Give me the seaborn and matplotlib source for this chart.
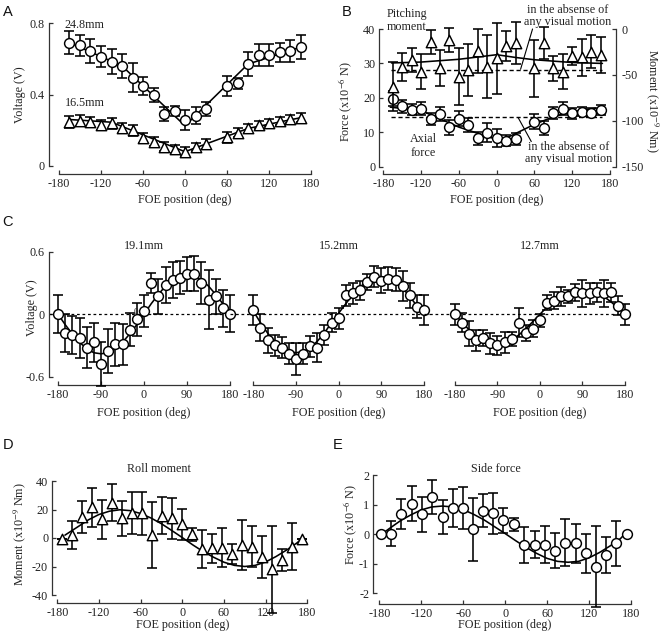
import matplotlib
matplotlib.use("Agg")
import matplotlib.pyplot as plt
import seaborn as sns

# ---------------- data ----------------
A_x = [-165, -150, -135, -120, -105, -90, -75, -60, -45, -30, -15, 0, 15, 30, 60, 75, 90, 105, 120, 135, 150, 165]
A_big = [0.69, 0.675, 0.645, 0.612, 0.582, 0.56, 0.494, 0.45, 0.397, 0.291, 0.308, 0.257, 0.282, 0.317,
         0.448, 0.463, 0.571, 0.621, 0.621, 0.636, 0.645, 0.666]
A_big_err = [0.063, 0.059, 0.067, 0.06, 0.07, 0.065, 0.08, 0.05, 0.037, 0.04, 0.028, 0.058, 0.047, 0.04,
             0.056, 0.03, 0.067, 0.063, 0.063, 0.053, 0.062, 0.068]
A_small = [0.248, 0.254, 0.246, 0.228, 0.239, 0.211, 0.2, 0.155, 0.136, 0.108, 0.097, 0.08, 0.108, 0.123,
           0.16, 0.187, 0.211, 0.23, 0.243, 0.25, 0.263, 0.27]
A_small_err = [0.033, 0.032, 0.03, 0.028, 0.03, 0.027, 0.03, 0.027, 0.024, 0.026, 0.022, 0.025, 0.022, 0.028,
               0.03, 0.026, 0.026, 0.024, 0.022, 0.022, 0.022, 0.024]
A_big_fit_x = [-165, -90, 0, 90, 165]
A_big_fit_y = [0.69, 0.56, 0.225, 0.57, 0.665]
A_small_fit_x = [-165, -105, 0, 90, 165]
A_small_fit_y = [0.26, 0.245, 0.08, 0.21, 0.27]

B_x = A_x
B_pitch = [-62.7, -41, -33.7, -46.5, -13.8, -42.7, -11.9, -52, -44.6, -23.6, -41, -31.9, -18.4, -15.4,
           -42.7, -15.4, -42.7, -46.5, -29.3, -30.7, -25, -28.3]
B_pitch_err = [27, 15.4, 13.3, 19, 13, 19.5, 13, 31, 28, 24, 34, 38.6, 16, 22.6, 31, 17.8, 13.7, 19, 10, 20, 18, 20]
B_axial = [19.8, 17.6, 16.6, 16.8, 13.8, 15.3, 11.4, 13.9, 12.1, 8.2, 9.9, 8.3, 7.6, 8.0, 13.1, 11.3, 15.7,
           16.9, 15.5, 16.0, 15.7, 16.5]
B_axial_err = [2.2, 1.9, 1.6, 1.9, 1.8, 2.0, 2.1, 2.2, 2.0, 2.0, 2.7, 2.7, 1.6, 1.7, 2.2, 2.0, 1.7, 1.9, 1.6,
               1.4, 1.4, 1.5]
B_pitch_fit_x = [-167, -120, -60, -30, 0, 30, 60, 120, 168]
B_pitch_fit_y = [-37, -36, -33, -30.5, -28, -31, -33.5, -36.5, -37.5]
B_axial_fit_x = [-169, -120, -60, 0, 15, 60, 90, 120, 169]
B_axial_fit_y = [17.3, 16.3, 11.5, 7.9, 8.3, 12.3, 14.5, 16.0, 17.3]
B_pitch_rest = -45
B_axial_rest = 14.5

C_x = [-180, -165, -150, -135, -120, -105, -90, -75, -60, -45, -30, -15, 0, 15, 30, 45, 60, 75, 90, 105,
       120, 135, 150, 165, 180]
C1_y = [0, -0.18, -0.2, -0.23, -0.32, -0.27, -0.48, -0.35, -0.29, -0.29, -0.15, -0.05, 0.03, 0.3, 0.17,
        0.28, 0.33, 0.35, 0.385, 0.39, 0.3, 0.14, 0.17, 0.055, 0.006]
C1_err = [0.18, 0.18, 0.18, 0.19, 0.2, 0.19, 0.21, 0.21, 0.21, 0.2, 0.16, 0.16, 0.15, 0.1, 0.17, 0.17, 0.17,
          0.16, 0.16, 0.17, 0.2, 0.28, 0.17, 0.18, 0.18]
C1_fit = [0, -0.1, -0.19, -0.27, -0.33, -0.37, -0.38, -0.37, -0.33, -0.27, -0.19, -0.1, 0, 0.1, 0.19, 0.27,
          0.33, 0.37, 0.38, 0.37, 0.33, 0.27, 0.19, 0.1, 0]
C2_y = [0.04, -0.13, -0.25, -0.3, -0.32, -0.38, -0.43, -0.38, -0.31, -0.32, -0.2, -0.08, -0.04, 0.18, 0.2,
        0.23, 0.31, 0.36, 0.32, 0.34, 0.33, 0.27, 0.18, 0.07, 0.04]
C2_err = [0.14, 0.13, 0.12, 0.1, 0.1, 0.1, 0.15, 0.1, 0.1, 0.14, 0.1, 0.09, 0.1, 0.1, 0.1, 0.09, 0.08, 0.1,
          0.12, 0.11, 0.11, 0.14, 0.12, 0.11, 0.14]
C2_fit = [0.03, -0.08, -0.18, -0.26, -0.32, -0.36, -0.37, -0.36, -0.32, -0.26, -0.18, -0.08, 0.01, 0.1,
          0.19, 0.26, 0.32, 0.35, 0.36, 0.35, 0.31, 0.25, 0.17, 0.08, 0.0]
C3_y = [0, -0.08, -0.19, -0.25, -0.23, -0.28, -0.3, -0.27, -0.24, -0.08, -0.18, -0.14, -0.06, 0.11, 0.13,
        0.17, 0.17, 0.21, 0.2, 0.2, 0.21, 0.2, 0.21, 0.08, 0]
C3_err = [0.1, 0.09, 0.12, 0.1, 0.08, 0.1, 0.09, 0.1, 0.07, 0.14, 0.08, 0.08, 0.06, 0.07, 0.08, 0.09, 0.06,
          0.08, 0.13, 0.1, 0.09, 0.13, 0.09, 0.09, 0.1]
C3_fit = [0, -0.08, -0.15, -0.21, -0.26, -0.28, -0.29, -0.28, -0.25, -0.2, -0.14, -0.07, 0.0, 0.07, 0.13,
          0.18, 0.21, 0.23, 0.235, 0.23, 0.21, 0.17, 0.12, 0.06, 0.0]
C_titles = ["19.1mm", "15.2mm", "12.7mm"]

D_x = [-172.8, -158.4, -144, -129.6, -115.2, -100.8, -86.4, -72, -57.6, -43.2, -28.8, -14.4, 0, 14.4, 28.8,
       43.2, 57.6, 72, 86.4, 100.8, 115.2, 129.6, 144, 158.4, 172.8]
D_y = [-0.5, 1.9, 15, 21.5, 13, 24.8, 13.8, 17.8, 17.3, 2.1, 15.7, 13.8, 9.6, 2.6, -7.9, -7.2, -6.8, -11.4,
       -4.9, -6.1, -13.6, -22, -15.4, -6.1, -0.5]
D_err = [0, 9.7, 11.2, 13.7, 13.4, 12.9, 12.3, 14.8, 15, 23.4, 12.9, 14.6, 11, 4.7, 13.2, 10, 13.8, 7, 17.5,
         14.4, 14.8, 30.5, 7.8, 16.6, 0]
D_fit_x = [-169, -150, -135, -120, -105, -90, -75, -60, -45, -30, -15, 0, 15, 30, 45, 60, 75, 90, 105, 120,
           135, 150, 165, 172]
D_fit_y = [2, 8, 12.8, 16.5, 18.8, 19.8, 19.2, 17.2, 14, 10, 5.2, 0.3, -4.8, -9.5, -13.5, -17, -19.2, -20,
           -19.2, -16.8, -13, -8.5, -3.5, -0.5]

E_x = [-178, -163.3, -148.8, -133.5, -119.2, -104.4, -89.2, -74.9, -60.6, -45.3, -31, -16.7, -2.4, 12.4,
       27.2, 42, 57.2, 71.5, 86.3, 101, 115.4, 129.7, 144.5, 158.8, 174]
E_y = [0, 0.02, 0.67, 1.03, 0.67, 1.26, 0.58, 0.87, 0.89, 0.16, 0.79, 0.7, 0.47, 0.33, -0.37, -0.35, -0.35,
       -0.56, -0.29, -0.31, -0.65, -1.1, -0.71, -0.31, 0]
E_err = [0, 0.43, 0.51, 0.6, 0.6, 0.58, 0.57, 0.64, 0.7, 1.07, 0.56, 0.69, 0.42, 0.22, 0.61, 0.45, 0.64,
         0.6, 0.79, 0.65, 0.66, 1.37, 0.6, 0.77, 0]
E_fit_x = [-172, -165, -150, -135, -120, -105, -90, -75, -60, -45, -30, -15, 0, 15, 30, 45, 60, 75, 90, 105,
           120, 135, 150, 165, 170]
E_fit_y = [0.08, 0.2, 0.45, 0.65, 0.82, 0.92, 0.95, 0.92, 0.83, 0.67, 0.48, 0.25, 0.02, -0.22, -0.45, -0.65,
           -0.82, -0.92, -0.95, -0.92, -0.8, -0.62, -0.4, -0.15, -0.02]

ticks_60 = [-180, -120, -60, 0, 60, 120, 180]
ticks_90 = [-180, -90, 0, 90, 180]

# ---------------- style ----------------
sns.set_style("ticks")
plt.rcParams["font.family"] = ["Liberation Serif", "DejaVu Serif"]
plt.rcParams["mathtext.fontset"] = "stix"
plt.rcParams["axes.unicode_minus"] = False
plt.rcParams["font.size"] = 8.7
TXT = "#222222"
SP = "#333333"

W, H = 661, 640
fig = plt.figure(figsize=(W / 100, H / 100), dpi=100)


def add_ax(left, top, right, bottom):
    return fig.add_axes([left / W, 1 - bottom / H, (right - left) / W, (bottom - top) / H])


def style(ax, xticks, yticks, xlim, ylim, loff, boff, left=True):
    ax.set_xlim(*xlim)
    ax.set_ylim(*ylim)
    ax.set_xticks(xticks)
    ax.set_xticklabels([str(t) for t in xticks])
    for s in ["top", "right"]:
        ax.spines[s].set_visible(False)
    ax.spines["bottom"].set_position(("outward", boff * 0.72))
    ax.spines["bottom"].set_bounds(xticks[0], xticks[-1])
    ax.spines["bottom"].set_color(SP)
    ax.spines["bottom"].set_linewidth(0.9)
    if left:
        ax.set_yticks(yticks)
        ax.set_yticklabels([("%g" % t) for t in yticks])
        ax.spines["left"].set_position(("outward", loff * 0.72))
        ax.spines["left"].set_bounds(yticks[0], yticks[-1])
        ax.spines["left"].set_color(SP)
        ax.spines["left"].set_linewidth(0.9)
    else:
        ax.spines["left"].set_visible(False)
        ax.set_yticks([])
    ax.tick_params(direction="in", length=3, width=0.9, color=SP, labelcolor=TXT,
                   labelsize=8.7, pad=3)
    ax.patch.set_alpha(0)


def fit(ax, x, y, **kw):
    sns.lineplot(x=x, y=y, ax=ax, color="black", lw=1.15, sort=False, estimator=None,
                 zorder=2, **kw)


def pts(ax, x, y, err, marker="o"):
    ax.errorbar(x, y, yerr=err, fmt="none", ecolor="black", elinewidth=1.15, capsize=3.4,
                capthick=1.15, zorder=3, clip_on=False)
    sns.scatterplot(x=x, y=y, ax=ax, marker=marker, s=50 if marker == "o" else 56,
                    facecolor="white", edgecolor="black", linewidth=1.05, zorder=4, clip_on=False)


def xlab(ax, yfrac):
    ax.set_xlabel("FOE position (deg)", color=TXT, fontsize=8.7, va="center")
    ax.xaxis.set_label_coords(0.5, yfrac)


def ylab(ax, text, xfrac, yfrac=0.5, right=False):
    ax.set_ylabel(text, color=TXT, fontsize=8.7, va="center", ha="center",
                  rotation=270 if right else 90)
    ax.yaxis.set_label_coords(xfrac, yfrac)


# ---------------- A ----------------
axA = add_ax(59, 23, 311, 166)
style(axA, ticks_60, [0, 0.4, 0.8], (-180, 180), (0, 0.8), 10, 8)
fit(axA, A_big_fit_x, A_big_fit_y)
fit(axA, A_small_fit_x, A_small_fit_y)
pts(axA, A_x, A_big, A_big_err, "o")
pts(axA, A_x, A_small, A_small_err, "^")
axA.text(-172, 0.787, "24.8mm", ha="left", va="center", color=TXT, fontsize=8.7)
axA.text(-172, 0.35, "16.5mm", ha="left", va="center", color=TXT, fontsize=8.7)
xlab(axA, -0.238)
ylab(axA, "Voltage (V)", -0.155)

# ---------------- B ----------------
axB = add_ax(383.3, 29, 610, 166.7)
style(axB, ticks_60, [0, 10, 20, 30, 40], (-180, 180), (0, 40), 4, 7)
axB2 = axB.twinx()
axB2.set_ylim(-150, 0)
axB2.set_yticks([-150, -100, -50, 0])
axB2.set_yticklabels(["-150", "-100", "-50", "0"])
for s in ["top", "left", "bottom"]:
    axB2.spines[s].set_visible(False)
axB2.spines["right"].set_position(("outward", 6 * 0.72))
axB2.spines["right"].set_bounds(-150, 0)
axB2.spines["right"].set_color(SP)
axB2.spines["right"].set_linewidth(0.9)
axB2.tick_params(direction="in", length=3, width=0.9, color=SP, labelcolor=TXT, labelsize=8.7, pad=4)

axB.hlines(B_axial_rest, -167, 168, colors="black", linestyles=(0, (3, 2)), lw=1.0, zorder=1)
axB2.hlines(B_pitch_rest, -167, 168, colors="black", linestyles=(0, (3, 2)), lw=1.0, zorder=1)
fit(axB, B_axial_fit_x, B_axial_fit_y)
fit(axB2, B_pitch_fit_x, B_pitch_fit_y)
pts(axB, B_x, B_axial, B_axial_err, "o")
pts(axB2, B_x, B_pitch, B_pitch_err, "^")

axB.text(-143, 42.5, "Pitching\nmoment", ha="center", va="center", color=TXT, fontsize=8.7,
         linespacing=1.05)
axB.text(-116, 6.0, "Axial\nforce", ha="center", va="center", color=TXT, fontsize=8.7, linespacing=1.15)
axB.text(113, 43.8, "in the absense of\nany visual motion", ha="center", va="center", color=TXT,
         fontsize=8.7, linespacing=1.05)
axB.text(115, 4.0, "in the absense of\nany visual motion", ha="center", va="center", color=TXT,
         fontsize=8.7, linespacing=1.05)
axB.plot([57, 38], [40, 28.3], color="black", lw=0.8, clip_on=False, zorder=5)
axB.plot([55, 34], [7.3, 14.3], color="black", lw=0.8, clip_on=False, zorder=5)
xlab(axB, -0.242)
ylab(axB, r"Force (x10$^{-6}$ N)", -0.169, 0.47)
ylab(axB2, r"Moment (x10$^{-9}$ Nm)", 1.188, 0.48, right=True)

# ---------------- C ----------------
C_pos = [(58, 230), (253.3, 424), (455, 625)]
C_data = [(C1_y, C1_err, C1_fit), (C2_y, C2_err, C2_fit), (C3_y, C3_err, C3_fit)]
C_dash_start = [-0.05, -0.135, -0.18]
for i, ((l, r), (cy, ce, cf)) in enumerate(zip(C_pos, C_data)):
    ax = add_ax(l, 251.7, r, 376.7)
    style(ax, ticks_90, [-0.6, 0, 0.6], (-180, 180), (-0.6, 0.6), 9, 8, left=(i == 0))
    ax.axhline(0, xmin=C_dash_start[i], xmax=1.03, color="black", ls=(0, (2.2, 2.2)), lw=0.9,
               clip_on=False, zorder=1)
    fit(ax, C_x, cf)
    pts(ax, C_x, cy, ce, "o")
    ax.set_title(C_titles[i], color=TXT, fontsize=8.7, pad=1)
    xlab(ax, -0.29)
    if i == 0:
        ylab(ax, "Voltage (V)", -0.153, 0.556)
        ax.text(-18, 0.025, "0", ha="center", va="center", color=TXT, fontsize=6.5)

# ---------------- D ----------------
axD = add_ax(57.3, 481, 307.3, 595)
style(axD, ticks_60, [-40, -20, 0, 20, 40], (-180, 180), (-40, 40), 5, 8)
fit(axD, D_fit_x, D_fit_y)
pts(axD, D_x, D_y, D_err, "^")
axD.text(-33, 48.4, "Roll moment", ha="center", va="center", color=TXT, fontsize=8.7)
xlab(axD, -0.263)
ylab(axD, r"Moment (x10$^{-9}$ Nm)", -0.149, 0.53)

# ---------------- E ----------------
axE = add_ax(379.3, 475, 631, 593.3)
style(axE, ticks_60, [-2, -1, 0, 1, 2], (-180, 180), (-2, 2), 6, 11)
fit(axE, E_fit_x, E_fit_y)
pts(axE, E_x, E_y, E_err, "o")
axE.text(-13, 2.19, "Side force", ha="center", va="center", color=TXT, fontsize=8.7)
xlab(axE, -0.268)
ylab(axE, r"Force (x10$^{-6}$ N)", -0.116, 0.58)

# ---------------- panel letters ----------------
for lab, (px, py) in {"A": (3, 5), "B": (342, 5), "C": (2, 215), "D": (3, 438), "E": (333, 438)}.items():
    fig.text(px / W, 1 - py / H, lab, ha="left", va="top", fontsize=10.5,
             family=["Liberation Sans", "DejaVu Sans"], color="#111111")

fig.savefig("out.png", dpi=100)
